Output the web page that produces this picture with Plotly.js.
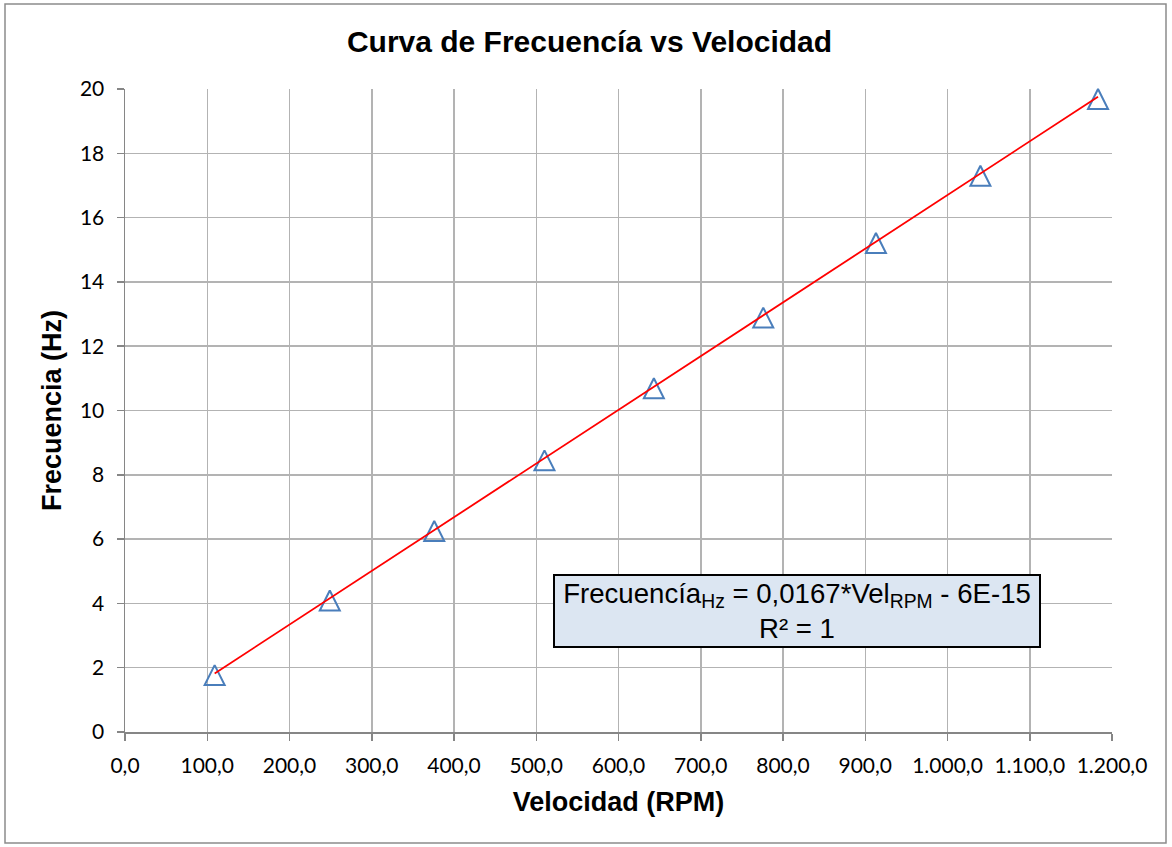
<!DOCTYPE html>
<html>
<head>
<meta charset="utf-8">
<script src="https://cdn.plot.ly/plotly-3.0.1.min.js"></script>
<style>
  html, body { margin: 0; padding: 0; background: #ffffff; }
  #chart { width: 1172px; height: 847px; }
</style>
</head>
<body>
<div id="chart"></div>
<script>
// Measured data points
const velocidadRPM = [109, 249, 376, 510, 643, 776, 913, 1040, 1183];
const frecuenciaHz = [1.77, 4.09, 6.25, 8.45, 10.69, 12.89, 15.21, 17.30, 19.69];

// Linear trend line endpoints (Frecuencia = 0,0167*Vel - 6E-15)
const trendX = [109, 1183];
const trendY = [1.82, 19.76];

// Tick labels
const xTickVals = [0, 100, 200, 300, 400, 500, 600, 700, 800, 900, 1000, 1100, 1200];
const xTickText = ["0,0", "100,0", "200,0", "300,0", "400,0", "500,0", "600,0", "700,0", "800,0", "900,0", "1.000,0", "1.100,0", "1.200,0"];
const yTickVals = [0, 2, 4, 6, 8, 10, 12, 14, 16, 18, 20];
const yTickText = ["0", "2", "4", "6", "8", "10", "12", "14", "16", "18", "20"];

const tickFont = { family: "Lato, 'Open Sans', sans-serif", size: 21, color: "#000000" };
const boldFont = (s) => ({ family: "'Liberation Sans', Arial, sans-serif", size: s, color: "#000000", weight: "bold" });

const traces = [
  {
    x: velocidadRPM,
    y: frecuenciaHz,
    type: "scatter",
    mode: "markers",
    marker: {
      symbol: "arrow-down-open",
      angle: 180,
      size: 20,
      standoff: 10,
      color: "#4a7ebb",
      line: { color: "#4a7ebb", width: 2 }
    },
    cliponaxis: false,
    hoverinfo: "x+y",
    showlegend: false
  },
  {
    x: trendX,
    y: trendY,
    type: "scatter",
    mode: "lines",
    line: { color: "#ff0000", width: 1.8 },
    cliponaxis: false,
    showlegend: false
  }
];

const layout = {
  width: 1172,
  height: 847,
  margin: { l: 125, r: 60, t: 89, b: 115 },
  paper_bgcolor: "#ffffff",
  plot_bgcolor: "#ffffff",
  showlegend: false,
  title: {
    text: "Curva de Frecuencía vs Velocidad",
    font: boldFont(30),
    x: 0.503,
    xref: "container",
    xanchor: "center",
    y: 0.951,
    yref: "container",
    yanchor: "middle"
  },
  xaxis: {
    range: [0, 1200],
    tickvals: xTickVals,
    ticktext: xTickText,
    tickfont: tickFont,
    showgrid: true,
    gridcolor: "#b3b3b3",
    gridwidth: 1.5,
    zeroline: false,
    showline: true,
    linecolor: "#868686",
    linewidth: 1.5,
    ticks: "outside",
    ticklen: 7,
    tickwidth: 1.5,
    tickcolor: "#868686",
    ticklabelstandoff: 7,
    title: { text: "Velocidad (RPM)", font: boldFont(27), standoff: 16 }
  },
  yaxis: {
    range: [0, 20],
    tickvals: yTickVals,
    ticktext: yTickText,
    tickfont: tickFont,
    showgrid: true,
    gridcolor: "#b3b3b3",
    gridwidth: 1.5,
    zeroline: false,
    showline: true,
    linecolor: "#868686",
    linewidth: 1.5,
    ticks: "outside",
    ticklen: 7,
    tickwidth: 1.5,
    tickcolor: "#868686",
    ticklabelstandoff: 8,
    title: { text: "Frecuencia (Hz)", font: boldFont(27), standoff: 10 }
  },
  annotations: [
    {
      x: 817,
      y: 3.76,
      xref: "x",
      yref: "y",
      text: "Frecuencía<sub>Hz</sub> = 0,0167*Vel<sub>RPM</sub> - 6E-15<br>R² = 1",
      showarrow: false,
      font: { family: "'Liberation Sans', Arial, sans-serif", size: 27.6, color: "#000000" },
      align: "center",
      bgcolor: "#dce6f2",
      bordercolor: "#000000",
      borderwidth: 2,
      width: 482,
      height: 68,
      xanchor: "center",
      yanchor: "middle"
    }
  ],
  shapes: [
    {
      type: "rect",
      xref: "paper",
      yref: "paper",
      x0: (5 - 125) / 987,
      x1: (1166 - 125) / 987,
      y0: (732 - 843) / 643,
      y1: (732 - 4) / 643,
      line: { color: "#8c8c8c", width: 1.5 },
      fillcolor: "rgba(0,0,0,0)",
      layer: "below"
    }
  ]
};

Plotly.newPlot("chart", traces, layout, { displayModeBar: false, staticPlot: true });
</script>
</body>
</html>
